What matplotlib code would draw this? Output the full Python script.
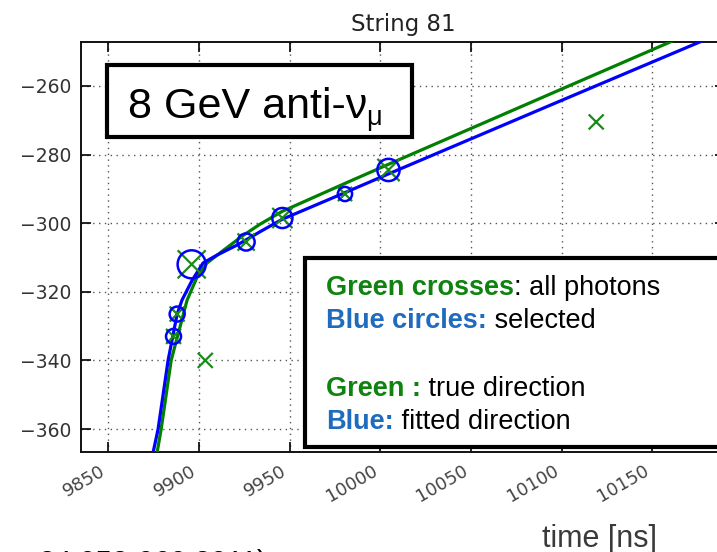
import matplotlib.pyplot as plt
from matplotlib.patches import Rectangle

# Photon hits on the string: arrival time [ns], depth z [m], charge (arb.)
hit_time = [9886, 9888, 9896, 9903.5, 9926, 9946, 9980.5, 10004.5, 10119]
hit_z = [-333, -326.5, -312, -340, -305.5, -298.5, -291.5, -284.5, -270.5]
hit_charge = [1.0, 1.0, 3.5, 1.0, 1.3, 1.8, 0.9, 2.2, 1.0]
hit_selected = [True, True, True, False, True, True, True, True, False]

# Expected arrival time along the string, true track direction
true_time = [9877, 9879.2, 9884.7, 9893.5, 9899, 9904.5, 9913.3, 9924.3, 9933.7,
             9945.8, 9981, 10004.7, 10100, 10165]
true_z = [-366.7, -360, -340, -322.4, -315.7, -311.6, -308.0, -303.6, -300.3,
          -296.6, -288.3, -282.8, -260.9, -246.0]

# Same for the fitted track direction
fit_time = [9874.8, 9877.5, 9883, 9888, 9890.7, 9896.3, 9902.3, 9910.0, 9921.0,
            9933.7, 9945.8, 9981, 10004.7, 10100, 10185]
fit_z = [-366.7, -360, -340, -326.5, -322.4, -316.6, -311.6, -309.3, -306.4,
         -302.5, -298.9, -291.0, -285.6, -264.2, -245.2]

x_ticks = [9850, 9900, 9950, 10000, 10050, 10100, 10150]
y_ticks = [-260, -280, -300, -320, -340, -360]

W, H = 717, 552
fig = plt.figure(figsize=(W / 100, H / 100), dpi=100)
fig.patch.set_facecolor('white')


def fx(px):
    return px / W


def fy(py):
    return 1 - py / H


ax = fig.add_axes([fx(81), fy(452), (725 - 81) / W, (452 - 42) / H])

ax.plot(true_time, true_z, color='#008000', lw=2.3, zorder=3)
ax.plot(fit_time, fit_z, color='#0000ff', lw=2.3, zorder=4)

size_unit = (0.72 * 15) ** 2
sel_t = [t for t, s in zip(hit_time, hit_selected) if s]
sel_z = [z for z, s in zip(hit_z, hit_selected) if s]
sel_q = [q for q, s in zip(hit_charge, hit_selected) if s]
ax.scatter(hit_time, hit_z, s=[q * size_unit for q in hit_charge], marker='x',
           color='#1a8a1a', linewidths=1.6, zorder=5)
ax.scatter(sel_t, sel_z, s=[q * size_unit for q in sel_q], marker='o',
           facecolors='none', edgecolors='#0000ff', linewidths=1.8, zorder=6)

ax.set_xlim(9835, 10190)
ax.set_ylim(-366.7, -247.2)
ax.set_xticks(x_ticks)
ax.set_yticks(y_ticks)
ax.set_xticklabels([str(v) for v in x_ticks], rotation=30, ha='right',
                   fontsize=13, color='#444444')
ax.tick_params(axis='y', labelsize=13.5, labelcolor='#333333')
ax.tick_params(direction='in', length=7, width=1.2, top=True, right=True, pad=7)
ax.grid(True, color='#555555', linestyle=(0, (1, 3.2)), linewidth=1.0)
for sp in ax.spines.values():
    sp.set_linewidth(1.4)
    sp.set_color('#111111')

ax.set_title('String 81', fontsize=16.5, color='#222222', pad=8)

# Event label box
fig.patches.append(Rectangle((fx(107), fy(137)), (412 - 107) / W, (137 - 65) / H,
                             transform=fig.transFigure, facecolor='white',
                             edgecolor='black', lw=3, zorder=2))
t_main = fig.text(fx(128), fy(118), '8 GeV anti-ν', fontsize=31,
                  family='Liberation Sans', va='baseline', zorder=3)

# Legend box
fig.patches.append(Rectangle((fx(305), fy(447)), (760 - 305) / W, (447 - 258) / H,
                             transform=fig.transFigure, facecolor='white',
                             edgecolor='black', lw=3, zorder=2))

green_txt = '#0f820f'
blue_txt = '#1f6bbd'
lines = [
    ('Green crosses', green_txt, ': all photons', 295),
    ('Blue circles:', blue_txt, ' selected', 328),
    ('Green :', green_txt, ' true direction', 396),
    ('Blue:', blue_txt, ' fitted direction', 429),
]
heads = []
for head, col, tail, base in lines:
    t = fig.text(fx(326), fy(base), head, fontsize=19.5, weight='bold', color=col,
                 family='Liberation Sans', va='baseline', zorder=3)
    heads.append((t, tail, base))

# Bottom notes
fig.text(fx(600), fy(547), 'time [ns]', fontsize=22, color='#3a3a3a',
         family='Liberation Sans', ha='center', va='baseline')
fig.text(fx(39), fy(571), '24,052-060 2011)', fontsize=21, color='black',
         family='Liberation Sans', va='baseline')

renderer = fig.canvas.get_renderer()
bb = t_main.get_window_extent(renderer)
fig.text(fx(bb.x1 - 1), fy(125), 'μ', fontsize=19.5, family='Liberation Sans',
         va='baseline', zorder=3)
for t, tail, base in heads:
    bb = t.get_window_extent(renderer)
    fig.text(fx(bb.x1), fy(base), tail, fontsize=19.5, color='black',
             family='Liberation Sans', va='baseline', zorder=3)

fig.savefig('out.png', dpi=100)
